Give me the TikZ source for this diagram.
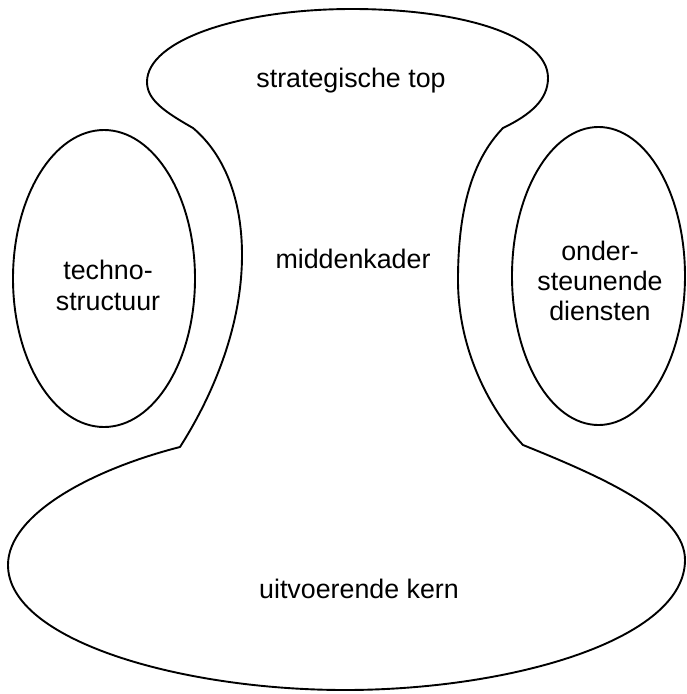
\documentclass[tikz,border=0pt]{standalone}
\usepackage{fontspec}
\setmainfont{Liberation Sans}
\begin{document}
\begin{tikzpicture}[x=1pt,y=-1pt,
  outline/.style={line width=1.9pt, line join=round},
  lbl/.style={font=\fontsize{26.8}{30.3}\selectfont, align=center, inner sep=0pt}]
\useasboundingbox (0,0) rectangle (686,694);
% main outline: strategic apex, middle line and operating core
\draw[outline] (193,128) .. controls (165,112) and (147,100) .. (147,82)
 .. controls (147,40) and (240,9) .. (352,9)
 .. controls (460,9) and (548,35) .. (548,78)
 .. controls (548,100) and (530,115) .. (503,128)
 .. controls (472,160) and (458,210) .. (458,280)
 .. controls (458,350) and (490,410) .. (523,445)
 .. controls (610,480) and (685,515) .. (685,560)
 .. controls (685,640) and (510,690) .. (345,690)
 .. controls (180,690) and (8,640) .. (8,565)
 .. controls (8,515) and (90,470) .. (180,447)
 .. controls (210,400) and (242,330) .. (242,255)
 .. controls (242,200) and (225,155) .. (193,128) -- cycle;
% technostructure and support staff
\draw[outline] (104,278.5) ellipse [x radius=91pt, y radius=148.5pt];
\draw[outline] (598.5,276) ellipse [x radius=86.5pt, y radius=149pt];
% labels
\node[lbl, anchor=base] (top) at (351,87) {strategische top};
\node[lbl, anchor=base] (mid) at (353,268) {middenkader};
\node[lbl] (tech) at (108,285.5) {techno-\\structuur};
\node[lbl] (support) at (600,281) {onder-\\steunende\\diensten};
\node[lbl, anchor=base] (core) at (359,598) {uitvoerende kern};
\end{tikzpicture}
\end{document}
